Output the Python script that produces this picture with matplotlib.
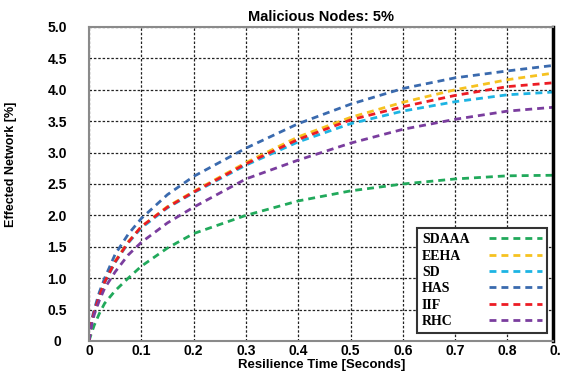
import numpy as np
import matplotlib
matplotlib.use("Agg")
from matplotlib import pyplot as plt

plt.rcParams.update({
    "font.family": ["Liberation Sans", "DejaVu Sans"],
    "font.weight": "bold",
})

# resilience time [s]
time_s = [0, 0.005, 0.01, 0.02, 0.03, 0.05, 0.075, 0.1, 0.15, 0.2,
          0.3, 0.4, 0.5, 0.6, 0.7, 0.8, 0.9]

# effected network [%] per scheme
sdaaa = [0, 0.13, 0.25, 0.44, 0.60, 0.80, 1.00, 1.19, 1.48, 1.71,
         2.00, 2.23, 2.39, 2.50, 2.58, 2.63, 2.64]
eeha = [0, 0.30, 0.46, 0.72, 0.95, 1.27, 1.58, 1.82, 2.14, 2.38,
        2.84, 3.25, 3.56, 3.80, 4.00, 4.16, 4.28]
sd = [0, 0.30, 0.45, 0.71, 0.93, 1.25, 1.56, 1.80, 2.12, 2.36,
      2.80, 3.17, 3.46, 3.66, 3.81, 3.92, 3.97]
has = [0, 0.33, 0.50, 0.78, 1.00, 1.38, 1.70, 1.95, 2.33, 2.62,
       3.07, 3.46, 3.77, 4.02, 4.19, 4.30, 4.40]
iif = [0, 0.30, 0.46, 0.72, 0.94, 1.26, 1.57, 1.82, 2.13, 2.37,
       2.82, 3.21, 3.52, 3.73, 3.91, 4.05, 4.12]
rhc = [0, 0.25, 0.42, 0.65, 0.84, 1.10, 1.37, 1.57, 1.88, 2.13,
       2.58, 2.88, 3.15, 3.37, 3.53, 3.66, 3.73]

series = [
    ("SDAAA", sdaaa, "#21a95b"),
    ("EEHA", eeha, "#f6c220"),
    ("SD", sd, "#1db4e3"),
    ("HAS", has, "#3a6aae"),
    ("IIF", iif, "#ec1c24"),
    ("RHC", rhc, "#7a3d9e"),
]

x_ticks = [0, 0.1, 0.2, 0.3, 0.4, 0.5, 0.6, 0.7, 0.8]
x_ticklabels = ["0", "0.1", "0.2", "0.3", "0.4", "0.5", "0.6", "0.7", "0.8"]
y_ticks = [0, 0.5, 1.0, 1.5, 2.0, 2.5, 3.0, 3.5, 4.0, 4.5, 5.0]
y_ticklabels = ["0", "0.5", "1.0", "1.5", "2.0", "2.5", "3.0", "3.5", "4.0", "4.5", "5.0"]

fig = plt.figure(figsize=(5.61, 3.71), dpi=100)
ax = fig.add_axes([0.1586, 0.0809, 0.827, 0.8464])

for name, vals, col in series:
    ax.plot(time_s, vals, color=col, lw=2.0, dashes=(2.5, 1.8), label=name)

ax.set_xlim(0, 0.887)
ax.set_ylim(0, 5.0)
ax.set_xticks(x_ticks)
ax.set_xticklabels(x_ticklabels)
ax.set_yticks(y_ticks)
ax.set_yticklabels(y_ticklabels)
ax.tick_params(length=0, labelsize=10)
ax.tick_params(axis="x", pad=2.5)
ax.tick_params(axis="y", pad=23)
for lab in ax.get_yticklabels():
    lab.set_ha("center")
# last x tick sits just past the right frame
ax.annotate("0.9", xy=(0.9, 0), xycoords=("data", "axes fraction"),
            xytext=(0, -2.5), textcoords="offset points", ha="center", va="top",
            fontsize=10, fontweight="bold", annotation_clip=False)

ax.grid(True, color="#222222", lw=0.9, linestyle=(0, (2, 1.5)))
ax.set_axisbelow(True)

for side in ["left", "top", "bottom"]:
    ax.spines[side].set_color("#8a8a8a")
    ax.spines[side].set_linewidth(1.5)
ax.spines["right"].set_color("black")
ax.spines["right"].set_linewidth(2.5)

ax.set_title("Malicious Nodes: 5%", fontsize=10.5, fontweight="bold", pad=4)
ax.set_xlabel("Resilience Time [Seconds]", fontsize=9.5, fontweight="bold")
ax.xaxis.set_label_coords(0.502, -0.058)
ax.set_ylabel("Effected Network [%]", fontsize=9, fontweight="bold",
              family=["Liberation Sans Narrow", "Liberation Sans"])
ax.yaxis.set_label_coords(-0.155, 0.563)

leg = ax.legend(loc="lower right", bbox_to_anchor=(0.987, 0.026), borderaxespad=0,
                markerfirst=False, fancybox=False, edgecolor="#333333",
                framealpha=1, handlelength=3.8, labelspacing=0.24,
                borderpad=0.35, handletextpad=0.5,
                prop={"family": ["Liberation Serif", "DejaVu Serif"],
                      "weight": "bold", "size": 10})
leg.get_frame().set_linewidth(1.5)
# left-align labels, right-align handles
for col in leg._legend_handle_box.get_children():
    for row in col.get_children():
        row.mode = "expand"
        row.width = 120

fig.savefig("out.png", dpi=100)
